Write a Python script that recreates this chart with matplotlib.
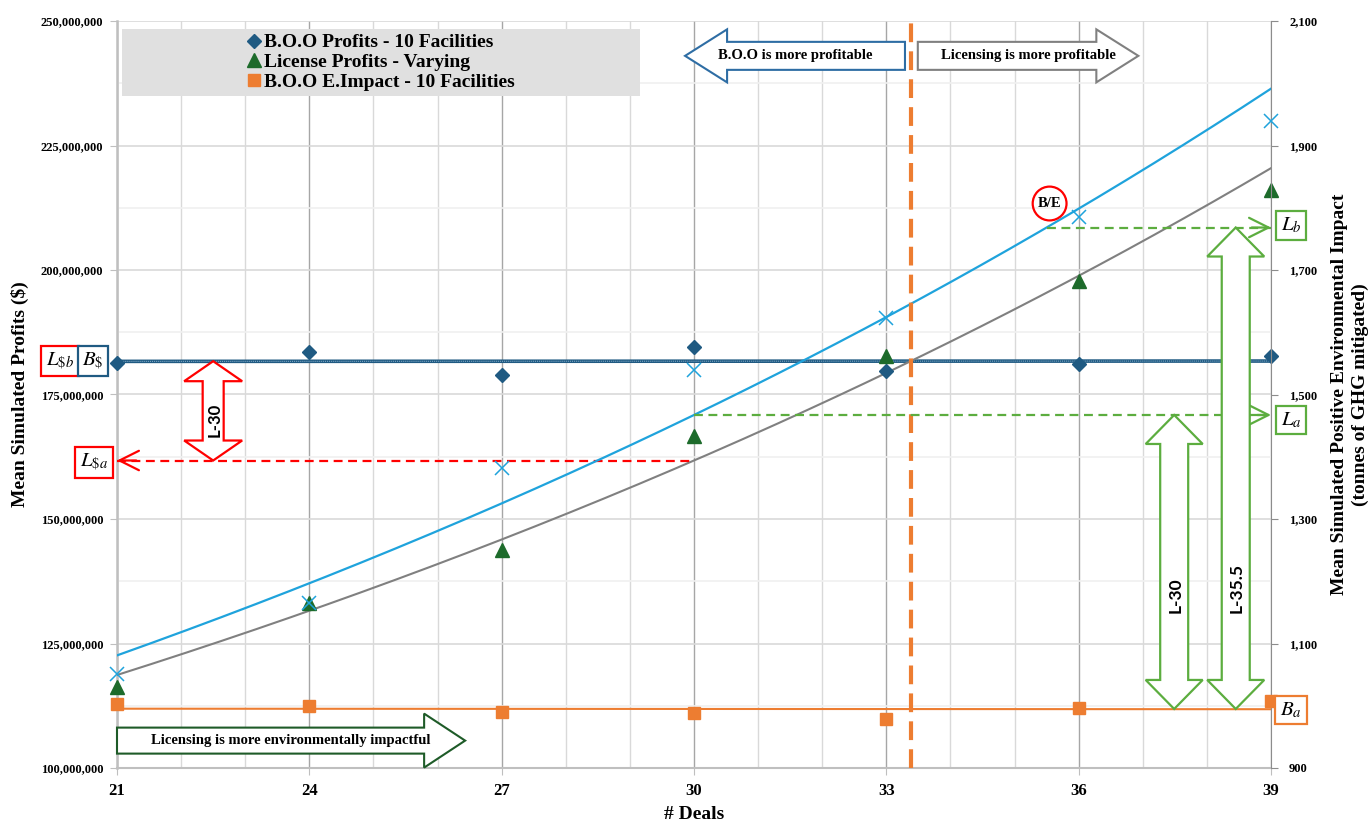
import numpy as np
import matplotlib.pyplot as plt
from matplotlib.patches import Polygon, Rectangle
from matplotlib.lines import Line2D
from matplotlib.ticker import FuncFormatter
from matplotlib.transforms import IdentityTransform

plt.rcParams['font.family'] = ['Liberation Serif', 'DejaVu Serif']
plt.rcParams['mathtext.fontset'] = 'stix'

# values
deals = [21, 24, 27, 30, 33, 36, 39]
boo_profits = [181.3, 183.5, 178.9, 184.5, 179.8, 181.1, 182.7]      # $ millions
license_profits = [116.2, 133.2, 143.8, 166.7, 182.7, 197.8, 216.0]  # $ millions
license_impact = [1051, 1165, 1382, 1539, 1623, 1785, 1939]          # tonnes GHG
boo_impact = [1003, 1000, 990, 988, 979, 996, 1008]                  # tonnes GHG

profit_ticks = [100, 125, 150, 175, 200, 225, 250]
impact_ticks = [900, 1100, 1300, 1500, 1700, 1900, 2100]

deals_a = 30      # L-30
deals_b = 35.5    # L-35.5

# colours
c_boo = '#1f5a82'
c_lic = '#1d6b2b'
c_orange = '#ed7d31'
c_sky = '#1fa3dc'
c_gray = '#808080'
c_green = '#5cad3f'
c_red = '#ff0000'

# trend lines (exponential for licensing, linear for B.O.O)
x = np.array(deals, dtype=float)


def exp_trend(y):
    k, c = np.polyfit(x, np.log(y), 1)
    return lambda v: np.exp(c + k * np.asarray(v, dtype=float))


lic_profit_fit = exp_trend(license_profits)
lic_impact_fit = exp_trend(license_impact)
boo_profit_fit = np.poly1d(np.polyfit(x, boo_profits, 1))
boo_impact_fit = np.poly1d(np.polyfit(x, boo_impact, 1))

grid = np.linspace(21, 39, 4001)
breakeven = np.interp(0, lic_profit_fit(grid) - boo_profit_fit(grid), grid)

b_dollar = float(np.mean(boo_profits))
l_dollar_a = float(lic_profit_fit(deals_a))
l_a = float(lic_impact_fit(deals_a))
l_b = float(lic_impact_fit(deals_b))
b_a = float(np.mean(boo_impact))

fig = plt.figure(figsize=(13.71, 8.24), dpi=100)
ax = fig.add_axes([117 / 1371, 56 / 824, 1154 / 1371, 747 / 824])
ax2 = ax.twinx()

ax.set_xlim(21, 39)
ax.set_ylim(100, 250)
ax2.set_ylim(900, 2100)

# grid
ax.set_xticks(deals)
ax.set_xticks(np.arange(21, 40), minor=True)
ax.set_yticks(profit_ticks)
ax.set_yticks(np.arange(112.5, 250, 25), minor=True)
ax.grid(which='major', axis='x', color='#a6a6a6', lw=1)
ax.grid(which='minor', axis='x', color='#d9d9d9', lw=1)
ax.grid(which='major', axis='y', color='#d9d9d9', lw=1.2)
ax.grid(which='minor', axis='y', color='#f0f0f0', lw=1.2)
ax2.set_yticks(impact_ticks)

ax.yaxis.set_major_formatter(FuncFormatter(lambda v, p: f"{v * 1e6:,.0f}"))
ax2.yaxis.set_major_formatter(FuncFormatter(lambda v, p: f"{v:,.0f}"))

for s in ['top', 'right']:
    ax.spines[s].set_visible(False)
for s in ['top', 'left', 'bottom']:
    ax2.spines[s].set_visible(False)
ax.spines['left'].set_color('#bfbfbf')
ax.spines['left'].set_linewidth(1.8)
ax.spines['bottom'].set_color('#bfbfbf')
ax.spines['bottom'].set_linewidth(1.5)
ax2.spines['right'].set_color('#8c8c8c')

ax.tick_params(which='major', length=5, color='#bfbfbf')
ax.tick_params(which='minor', length=0)
ax.tick_params(axis='y', labelsize=9, pad=5)
ax.tick_params(axis='x', labelsize=12, pad=6)
ax2.tick_params(axis='y', length=5, color='#8c8c8c', labelsize=9, pad=8)
for lab in ax.get_xticklabels() + ax.get_yticklabels() + ax2.get_yticklabels():
    lab.set_fontweight('bold')

ax.set_xlabel('# Deals', fontsize=14, fontweight='bold', labelpad=5)
ax.set_ylabel('Mean Simulated Profits ($)', fontsize=14, fontweight='bold', labelpad=8)
ax2.set_ylabel('Mean Simulated Positive Environmental Impact\n(tonnes of GHG mitigated)',
               fontsize=14, fontweight='bold', labelpad=10, linespacing=1.3)

# profits (left axis)
xs = np.linspace(21, 39, 200)
ax.plot([21, 39], boo_profit_fit([21, 39]), color=c_boo, lw=2.6, zorder=3)
ax.plot([21, 39], boo_profit_fit([21, 39]), color='#8fb4d0', lw=0.7, ls=(0, (1, 1)), zorder=3)
ax.plot(xs, lic_profit_fit(xs), color=c_gray, lw=1.5, zorder=3)
ax.plot(deals, boo_profits, ls='none', marker='D', ms=7, color=c_boo, zorder=4, clip_on=False)
ax.plot(deals, license_profits, ls='none', marker='^', ms=9.5, color=c_lic, zorder=4,
        clip_on=False)

# impact (right axis)
ax2.plot(xs, boo_impact_fit(xs), color=c_orange, lw=1.5, zorder=3)
ax2.plot(xs, lic_impact_fit(xs), color=c_sky, lw=1.6, zorder=3)
ax2.plot(deals, boo_impact, ls='none', marker='s', ms=8.5, color=c_orange, zorder=4,
         clip_on=False)
ax2.plot(deals, license_impact, ls='none', marker='x', ms=10, mew=1.1, color=c_sky, zorder=4,
         clip_on=False)

# break-even line
ax2.axvline(breakeven, color=c_orange, lw=3, dashes=(4.5, 2.2), zorder=5)

# dashed pointer lines
ax.plot([21, deals_a], [l_dollar_a] * 2, color=c_red, lw=1.6, dashes=(4, 2.5), zorder=5)
ax.annotate('', xy=(21, l_dollar_a), xytext=(21.3, l_dollar_a),
            arrowprops=dict(arrowstyle='->,head_length=0.7,head_width=0.35', color=c_red,
                            lw=1.6, mutation_scale=20, shrinkA=0, shrinkB=0), zorder=5)
for start, level in [(deals_a, l_a), (deals_b, l_b)]:
    ax2.plot([start, 39], [level] * 2, color=c_green, lw=1.6, dashes=(4, 2.5), zorder=5)
    ax2.annotate('', xy=(39, level), xytext=(38.7, level),
                 arrowprops=dict(arrowstyle='->,head_length=0.7,head_width=0.35', color=c_green,
                                 lw=1.6, mutation_scale=20, shrinkA=0, shrinkB=0), zorder=5)

ID = IdentityTransform()


def px(axis, xv, yv):
    return axis.transData.transform((xv, yv))


def h_arrow(axis, x_tail, x_tip, yv, body, head, head_len, color, text):
    xt, y0 = px(axis, x_tail, yv)
    xp, _ = px(axis, x_tip, yv)
    d = np.sign(xp - xt)
    xb = xp - d * head_len
    pts = [(xt, y0 + body), (xb, y0 + body), (xb, y0 + head), (xp, y0),
           (xb, y0 - head), (xb, y0 - body), (xt, y0 - body)]
    ax2.add_patch(Polygon(pts, closed=True, fc='white', ec=color, lw=1.5,
                          transform=ID, zorder=6, clip_on=False))
    ax2.text((xt + xp) / 2, y0, text, transform=ID, ha='center', va='center',
             fontsize=10.5, fontweight='bold', zorder=7)


def v_arrow(axis, xv, y_top, y_bot, body, head, head_len, color, text, text_y, size):
    x0, yt = px(axis, xv, y_top)
    _, yb = px(axis, xv, y_bot)
    pts = [(x0, yt), (x0 + head, yt - head_len), (x0 + body, yt - head_len),
           (x0 + body, yb + head_len), (x0 + head, yb + head_len), (x0, yb),
           (x0 - head, yb + head_len), (x0 - body, yb + head_len),
           (x0 - body, yt - head_len), (x0 - head, yt - head_len)]
    ax2.add_patch(Polygon(pts, closed=True, fc='white', ec=color, lw=1.6,
                          transform=ID, zorder=6, clip_on=False))
    ax2.text(x0 + 1, yb + text_y, text, transform=ID, rotation=90, ha='center', va='bottom',
             fontsize=size, fontweight='bold', family=['Lato', 'DejaVu Sans'], zorder=7)


def box(axis, xv, yv, dx, dy, text, color):
    x0, y0 = px(axis, xv, yv)
    ax2.text(x0 + dx, y0 + dy, text, transform=ID, ha='center', va='center', fontsize=15,
             zorder=8, clip_on=False,
             bbox=dict(boxstyle='square,pad=0.22', fc='white', ec=color, lw=1.6))


# profitability / impact arrows
top_y = 243
h_arrow(ax, breakeven - 0.09, breakeven - 3.52, top_y, 14, 26.5, 42, '#2e6da4',
        'B.O.O is more profitable')
h_arrow(ax, breakeven + 0.11, breakeven + 3.55, top_y, 14, 26.5, 42, c_gray,
        'Licensing is more profitable')
h_arrow(ax, 21, 26.43, 105.5, 13, 27, 41, '#1e5b28',
        'Licensing is more environmentally impactful')

# gap arrows
v_arrow(ax, 22.5, b_dollar, l_dollar_a, 10.5, 29, 20, c_red, 'L-30', 24, 12)
v_arrow(ax2, 37.49, l_a, b_a, 14, 28.5, 29, c_green, 'L-30', 96, 12.5)
v_arrow(ax2, 38.45, l_b, b_a, 14, 28.5, 29, c_green, 'L-35.5', 96, 12.5)

# level labels
box(ax, 21, b_dollar, -57, 0, r'$L_{\$b}$', c_red)
box(ax, 21, b_dollar, -24, 0, r'$B_{\$}$', c_boo)
box(ax, 21, l_dollar_a, -23, -2, r'$L_{\$a}$', c_red)
box(ax2, 39, l_b, 20, 2, r'$L_b$', c_green)
box(ax2, 39, l_a, 20, -5, r'$L_a$', c_green)
box(ax2, 39, b_a, 20, -1, r'$B_a$', c_orange)

bx, by = px(ax2, deals_b, l_b)
ax2.text(bx + 3, by + 24, 'B/E', transform=ID, ha='center', va='center', fontsize=10.5,
         fontweight='bold', zorder=8,
         bbox=dict(boxstyle='circle,pad=0.35', fc='none', ec=c_red, lw=1.6))

# legend on grey panel
ax2.add_patch(Rectangle((122, 824 - 96), 518, 67, fc='#e0e0e0', ec='none',
                        transform=ID, zorder=6))
handles = [Line2D([], [], ls='none', marker='D', ms=7, color=c_boo),
           Line2D([], [], ls='none', marker='^', ms=9.5, color=c_lic),
           Line2D([], [], ls='none', marker='s', ms=8.5, color=c_orange)]
labels = ['B.O.O Profits - 10 Facilities', 'License Profits - Varying',
          'B.O.O E.Impact - 10 Facilities']
leg = ax2.legend(handles, labels, loc='center', bbox_to_anchor=(381 / 1371, 1 - 62.5 / 824),
                 bbox_transform=fig.transFigure, frameon=False, handlelength=0.7,
                 handletextpad=0.2, labelspacing=0.12, borderpad=0,
                 prop=dict(size=14, weight='bold'))
leg.set_zorder(7)

fig.savefig('out.png', dpi=100)
